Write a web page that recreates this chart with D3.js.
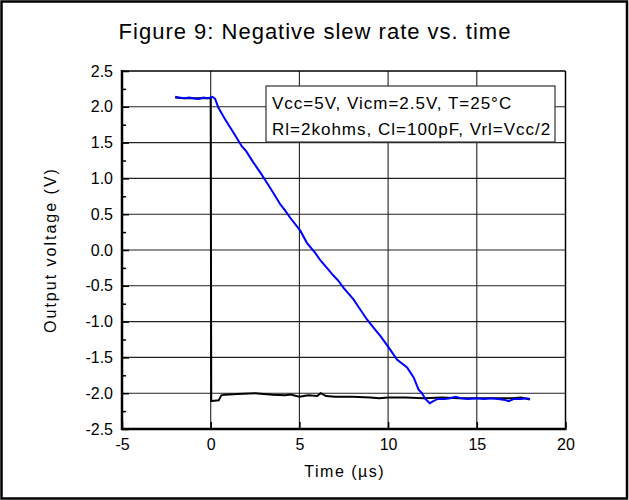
<!DOCTYPE html>
<html><head><meta charset="utf-8">
<script src="https://cdn.jsdelivr.net/npm/d3@7"></script>
<style>body{margin:0;background:#fff}svg{display:block;font-family:Arial,"Liberation Sans",sans-serif}</style>
</head><body><svg id="c" width="629" height="500"></svg>
<script>
const title = "Figure 9: Negative slew rate vs. time";
const xLabel = "Time (µs)";
const yLabel = "Output voltage (V)";
const legendLines = ["Vcc=5V, Vicm=2.5V, T=25°C", "Rl=2kohms, Cl=100pF, Vrl=Vcc/2"];
const xTicks = [-5, 0, 5, 10, 15, 20];
const yTicks = [2.5, 2.0, 1.5, 1.0, 0.5, 0.0, -0.5, -1.0, -1.5, -2.0, -2.5];

const blueX = [-2.0,-1.8,-1.5,-1.2,-1.0,-0.7,-0.4,-0.2,0.0,0.1,0.25,0.43,0.8,1.28,1.75,2.0,2.41,2.8,3.17,3.55,3.92,4.2,4.48,5.05,5.42,5.89,6.2,6.55,6.93,7.2,7.49,8.05,8.4,8.81,9.2,9.56,10.03,10.5,11.07,11.44,11.72,11.91,12.1,12.35,12.55,12.8,13.2,13.5,13.8,14.1,14.5,15.0,15.4,15.8,16.2,16.5,16.8,17.1,17.5,17.8,18.0];
const blueY = [2.14,2.13,2.12,2.13,2.12,2.11,2.13,2.12,2.13,2.14,2.11,1.99,1.83,1.64,1.45,1.38,1.22,1.08,0.94,0.79,0.64,0.55,0.45,0.27,0.10,-0.04,-0.15,-0.25,-0.36,-0.43,-0.53,-0.69,-0.82,-0.97,-1.09,-1.20,-1.36,-1.53,-1.64,-1.78,-1.95,-2.0,-2.08,-2.14,-2.11,-2.08,-2.08,-2.07,-2.05,-2.07,-2.08,-2.07,-2.08,-2.07,-2.08,-2.09,-2.11,-2.08,-2.08,-2.07,-2.08];

const blackX = [-2.0,-1.5,-1.0,-0.5,0.0,0.03,0.06,0.45,0.6,0.8,1.5,2.5,3.5,4.2,4.5,5.0,5.5,6.0,6.2,6.5,7.0,8.0,9.0,9.5,10.0,11.0,12.0,13.0,14.0,15.0,16.0,17.0,17.5,18.0];
const blackY = [2.13,2.12,2.12,2.12,2.12,-2.11,-2.11,-2.10,-2.03,-2.02,-2.01,-2.0,-2.02,-2.03,-2.02,-2.05,-2.03,-2.04,-2.0,-2.04,-2.05,-2.05,-2.06,-2.07,-2.06,-2.06,-2.07,-2.06,-2.07,-2.07,-2.07,-2.07,-2.06,-2.09];

const svg = d3.select("#c");
const L = 122, R = 565.5, T = 71, B = 429;
const x = d3.scaleLinear().domain([-5, 20]).range([L, R]);
const y = d3.scaleLinear().domain([-2.5, 2.5]).range([B, T]);
const FF = "Arial,'Liberation Sans',sans-serif";

// outer border
svg.append("rect").attr("x",1.5).attr("y",1.5).attr("width",625.5).attr("height",497)
  .attr("fill","none").attr("stroke","#000").attr("stroke-width",2.5);

svg.append("text").attr("x",315).attr("y",39).attr("text-anchor","middle")
  .attr("font-size",22).attr("letter-spacing",1).text(title);

// gridlines
const g = svg.append("g");
g.selectAll(".vg").data(xTicks.slice(1,-1)).join("line")
  .attr("x1",d=>x(d)).attr("x2",d=>x(d)).attr("y1",T).attr("y2",B)
  .attr("stroke","#222").attr("stroke-width",1.1);
g.selectAll(".hg").data(yTicks.slice(1,-1)).join("line")
  .attr("y1",d=>y(d)).attr("y2",d=>y(d)).attr("x1",L).attr("x2",R)
  .attr("stroke","#222").attr("stroke-width",1.1);

// axes with inward ticks
const yMinor = d3.range(-2.25, 2.5, 0.5);
svg.append("g").attr("transform",`translate(${L},0)`)
  .call(d3.axisLeft(y).tickValues(yMinor).tickSize(-4).tickFormat(""))
  .call(a=>a.select(".domain").remove())
  .call(a=>a.selectAll("line").attr("stroke-width",1.5));
svg.append("g").attr("transform",`translate(${L},0)`)
  .call(d3.axisLeft(y).tickValues(yTicks).tickSize(-7).tickPadding(9).tickFormat(d=>d.toFixed(1)))
  .call(a=>a.select(".domain").remove())
  .call(a=>a.selectAll("line").attr("stroke-width",1.5))
  .call(a=>a.selectAll("text").attr("font-size",16).attr("font-family",FF).attr("fill","#000"));
svg.append("g").attr("transform",`translate(0,${B})`)
  .call(d3.axisBottom(x).tickValues(xTicks).tickSize(-7).tickPadding(10).tickFormat(d=>String(d)))
  .call(a=>a.select(".domain").remove())
  .call(a=>a.selectAll("line").attr("stroke-width",1.5))
  .call(a=>a.selectAll("text").attr("font-size",16).attr("font-family",FF).attr("fill","#000"));

// frame
svg.append("line").attr("x1",L).attr("x2",R).attr("y1",T).attr("y2",T).attr("stroke","#000").attr("stroke-width",1.5);
svg.append("line").attr("x1",R).attr("x2",R).attr("y1",T).attr("y2",B).attr("stroke","#000").attr("stroke-width",1.5);
svg.append("line").attr("x1",L).attr("x2",L).attr("y1",T-1).attr("y2",B+1).attr("stroke","#000").attr("stroke-width",2.5);
svg.append("line").attr("x1",L-1).attr("x2",R+1).attr("y1",B).attr("y2",B).attr("stroke","#000").attr("stroke-width",2.5);

// data lines
const line = d3.line().x(d=>x(d[0])).y(d=>y(d[1]));
svg.append("path").datum(d3.zip(blackX, blackY)).attr("d",line)
  .attr("fill","none").attr("stroke","#000").attr("stroke-width",2);
svg.append("path").datum(d3.zip(blueX, blueY)).attr("d",line)
  .attr("fill","none").attr("stroke","#0000ff").attr("stroke-width",2);

// legend box
svg.append("rect").attr("x",266).attr("y",86).attr("width",289).attr("height",56)
  .attr("fill","#fff").attr("stroke","#333").attr("stroke-width",1.2);
svg.selectAll(".lg").data(legendLines).join("text")
  .attr("x",272).attr("y",(d,i)=>109+i*26).attr("font-size",17).attr("letter-spacing",1).text(d=>d);

// axis titles
svg.append("text").attr("x",(x(-5)+x(20))/2+1).attr("y",477).attr("text-anchor","middle")
  .attr("font-size",16).attr("letter-spacing",1.5).text(xLabel);
svg.append("text").attr("transform",`translate(56,${(T+B)/2}) rotate(-90)`)
  .attr("text-anchor","middle").attr("font-size",16).attr("letter-spacing",2).text(yLabel);
</script></body></html>
